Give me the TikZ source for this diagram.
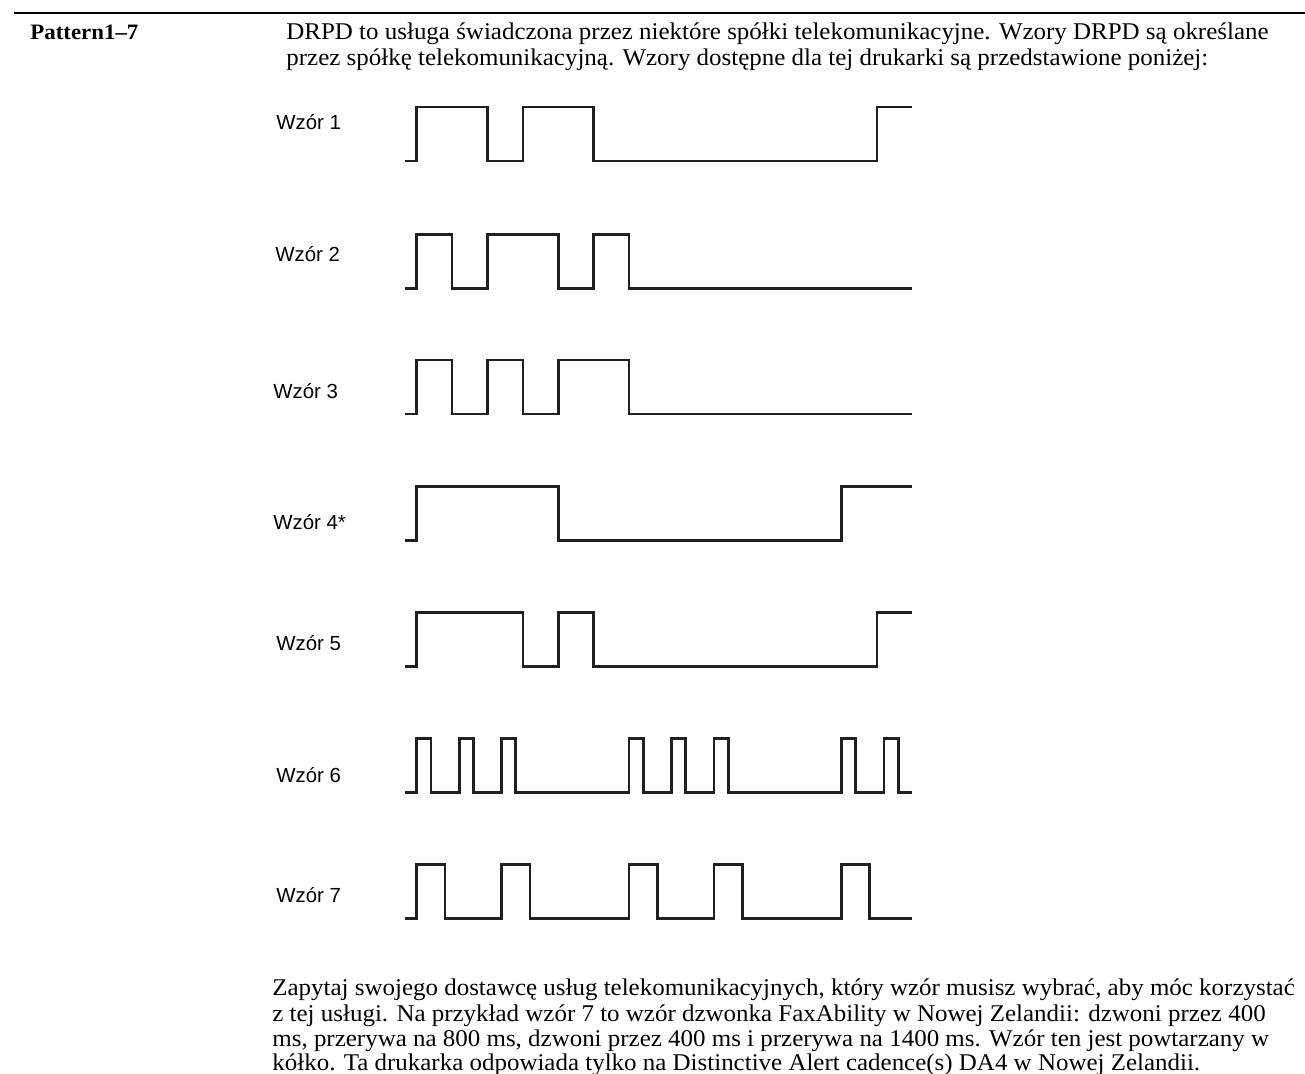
\documentclass[tikz,border=0pt]{standalone}
\usepackage{fontspec}
\setmainfont[FakeStretch=1.04]{Liberation Serif}
\newfontfamily\labelfont{Liberation Sans}
\definecolor{ink}{RGB}{35,31,32}
\tikzset{
  wave/.style={line width=1.35pt, line join=miter, draw=ink},
  lbl/.style={anchor=base west, inner sep=0pt, font=\labelfont\fontsize{10.2}{12}\selectfont},
  txt/.style={anchor=base west, inner sep=0pt, font=\fontsize{12}{13}\selectfont}
}
\begin{document}
\begin{tikzpicture}[x=0.5pt, y=-0.5pt]
  \useasboundingbox (0,0) rectangle (1305,1074);
  \coordinate (RL) at (14,13);
  \coordinate (RR) at (1305,13);
  \draw[line width=1.3pt] (RL) -- (RR);

  \node[txt, font=\bfseries\fontsize{11}{13}\selectfont] (head) at (30,40) {Pattern1--7};
  \node[txt] (top1) at (286,40) {DRPD to usługa świadczona przez niektóre spółki telekomunikacyjne. Wzory DRPD są określane};
  \node[txt] (top2) at (286,66) {przez spółkę telekomunikacyjną. Wzory dostępne dla tej drukarki są przedstawione poniżej:};

  % labels of the patterns
  \node[lbl] (w1) at (276,130) {Wzór 1};
  \node[lbl] (w2) at (275,262) {Wzór 2};
  \node[lbl] (w3) at (273,399) {Wzór 3};
  \node[lbl] (w4) at (273,529) {Wzór 4*};
  \node[lbl] (w5) at (276,650) {Wzór 5};
  \node[lbl] (w6) at (276,782) {Wzór 6};
  \node[lbl] (w7) at (276,902) {Wzór 7};

  % waveforms, one time step = 35.4px
  \begin{scope}[shift={(416.7,161)}, x=17.7pt, y=27pt]
    \draw[wave] (-0.33,0) -- (0,0) -- (0,1) -- (2,1) -- (2,0) -- (3,0) -- (3,1) -- (5,1) -- (5,0) -- (13,0) -- (13,1) -- (14,1);
  \end{scope}
  \begin{scope}[shift={(416.7,288.3)}, x=17.7pt, y=27pt]
    \draw[wave] (-0.33,0) foreach \t/\w in {0/1,2/2,5/1} { -- (\t,0) -- (\t,1) -- (\t+\w,1) -- (\t+\w,0) } -- (14,0);
  \end{scope}
  \begin{scope}[shift={(416.7,414)}, x=17.7pt, y=27pt]
    \draw[wave] (-0.33,0) foreach \t/\w in {0/1,2/1,4/2} { -- (\t,0) -- (\t,1) -- (\t+\w,1) -- (\t+\w,0) } -- (14,0);
  \end{scope}
  \begin{scope}[shift={(416.7,540.7)}, x=17.7pt, y=27pt]
    \draw[wave] (-0.33,0) -- (0,0) -- (0,1) -- (4,1) -- (4,0) -- (12,0) -- (12,1) -- (14,1);
  \end{scope}
  \begin{scope}[shift={(416.7,666.7)}, x=17.7pt, y=27pt]
    \draw[wave] (-0.33,0) -- (0,0) -- (0,1) -- (3,1) -- (3,0) -- (4,0) -- (4,1) -- (5,1) -- (5,0) -- (13,0) -- (13,1) -- (14,1);
  \end{scope}
  \begin{scope}[shift={(416.7,792.7)}, x=17.7pt, y=27pt]
    \draw[wave] (-0.33,0) foreach \t in {0,1.2,2.4,6,7.2,8.4,12,13.2} { -- (\t,0) -- (\t,1) -- (\t+0.4,1) -- (\t+0.4,0) } -- (14,0);
  \end{scope}
  \begin{scope}[shift={(416.7,918.3)}, x=17.7pt, y=27pt]
    \draw[wave] (-0.33,0) foreach \t in {0,2.4,6,8.4,12} { -- (\t,0) -- (\t,1) -- (\t+0.8,1) -- (\t+0.8,0) } -- (14,0);
  \end{scope}

  \node[txt] (bot1) at (272,995) {Zapytaj swojego dostawcę usług telekomunikacyjnych, który wzór musisz wybrać, aby móc korzystać};
  \node[txt] (bot2) at (272,1021) {z tej usługi. Na przykład wzór 7 to wzór dzwonka FaxAbility w Nowej Zelandii: dzwoni przez 400};
  \node[txt] (bot3) at (272,1046) {ms, przerywa na 800 ms, dzwoni przez 400 ms i przerywa na 1400 ms. Wzór ten jest powtarzany w};
  \node[txt] (bot4) at (272,1070) {kółko. Ta drukarka odpowiada tylko na Distinctive Alert cadence(s) DA4 w Nowej Zelandii.};
\end{tikzpicture}
\end{document}
